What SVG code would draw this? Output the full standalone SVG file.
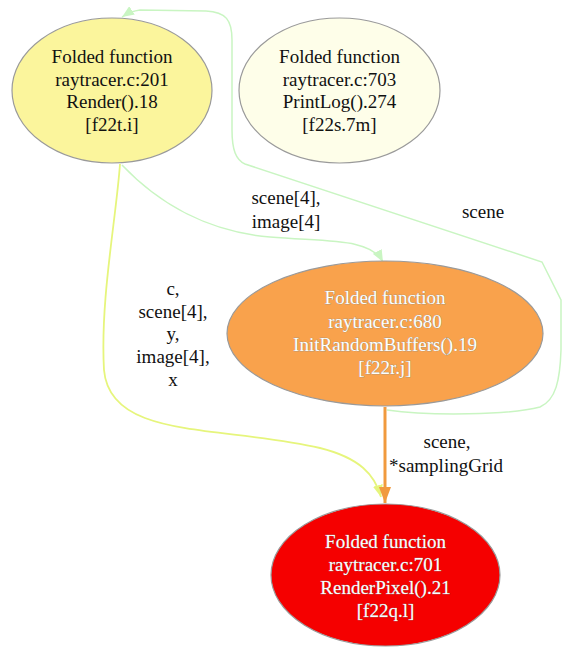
<svg xmlns="http://www.w3.org/2000/svg" width="562" height="648" viewBox="0 0 562 648">
<style>
  .node-shape { stroke: #9a9a9a; stroke-width: 1.2; }
  .t { font-family: 'Liberation Serif', Tinos, 'Times New Roman', 'DejaVu Serif', serif; font-size: 19px; text-anchor: middle; }
  .dark { fill: #111; }
  .light { fill: #fbffff; stroke: #8a8a8a; stroke-width: 0.5; paint-order: stroke; }
  .edge { fill: none; }
  .green { stroke: #c9f5c2; stroke-width: 1.5; }
  .yellow { stroke: #e6f57c; stroke-width: 1.8; }
  .orange { stroke: #f19a3e; stroke-width: 3; }
</style>
<defs>
  <marker id="ah-green" markerUnits="userSpaceOnUse" markerWidth="12" markerHeight="10" refX="12" refY="5" orient="auto">
    <path d="M0,0 L12,5 L0,10 z" fill="#c9f5c2"/>
  </marker>
  <marker id="ah-yellow" markerUnits="userSpaceOnUse" markerWidth="12" markerHeight="10" refX="12" refY="5" orient="auto">
    <path d="M0,0 L12,5 L0,10 z" fill="#e6f57c"/>
  </marker>
  <marker id="ah-orange" markerUnits="userSpaceOnUse" markerWidth="16" markerHeight="12" refX="16" refY="6" orient="auto">
    <path d="M0,0 L16,6 L0,12 z" fill="#f19a3e"/>
  </marker>
</defs>
<rect x="0" y="0" width="562" height="648" fill="#ffffff"/>

<g id="connectors">
  <path class="edge yellow" d="M120,164 C116,220 100,300 104,370 C110,440 220,425 320,448 C360,458 375,475 381,497" marker-end="url(#ah-yellow)"/>
  <path class="edge green" d="M122,165 C160,205 210,232 270,237 C330,242 370,238 383,262" marker-end="url(#ah-green)"/>
  <path class="edge green" d="M387,410 C430,416 510,415 540,407 C556,400 560,380 561,350 L561,300 L542,262 L245,164 C236,160 232,150 232,130 L232,40 C232,20 226,12 206,11 L140,10 C132,11 128,13 122,17" marker-end="url(#ah-green)"/>
  <path class="edge orange" d="M385,407 L385,503" marker-end="url(#ah-orange)"/>
  <g class="t dark" font-family="'Liberation Serif', serif">
    <text x="286" y="204">scene[4],</text>
    <text x="286" y="228">image[4]</text>
    <text x="483" y="218">scene</text>
    <text x="173" y="295">c,</text>
    <text x="173" y="318">scene[4],</text>
    <text x="173" y="340">y,</text>
    <text x="173" y="363">image[4],</text>
    <text x="173" y="386">x</text>
    <text x="447" y="448">scene,</text>
    <text x="446" y="472">*samplingGrid</text>
  </g>
</g>

<g id="node-render">
  <ellipse class="node-shape" cx="112" cy="90.5" rx="100" ry="72.5" fill="#fbf59c"/>
  <g class="t dark">
    <text x="112" y="63">Folded function</text>
    <text x="112" y="86">raytracer.c:201</text>
    <text x="112" y="108">Render().18</text>
    <text x="112" y="131">[f22t.i]</text>
  </g>
</g>

<g id="node-printlog">
  <ellipse class="node-shape" cx="339.5" cy="90.5" rx="100.5" ry="72.5" fill="#fefee9"/>
  <g class="t dark">
    <text x="339.5" y="63">Folded function</text>
    <text x="339.5" y="86">raytracer.c:703</text>
    <text x="339.5" y="108">PrintLog().274</text>
    <text x="339.5" y="131">[f22s.7m]</text>
  </g>
</g>

<g id="node-initrandombuffers">
  <ellipse class="node-shape" cx="385" cy="333.5" rx="158" ry="72.5" fill="#f9a24c"/>
  <g class="t light">
    <text x="385" y="304">Folded function</text>
    <text x="385" y="328">raytracer.c:680</text>
    <text x="385" y="351">InitRandomBuffers().19</text>
    <text x="385" y="374">[f22r.j]</text>
  </g>
</g>

<g id="node-renderpixel">
  <ellipse class="node-shape" cx="385.5" cy="575" rx="114.5" ry="71" fill="#f50000"/>
  <g class="t light">
    <text x="385.5" y="548">Folded function</text>
    <text x="385.5" y="571">raytracer.c:701</text>
    <text x="385.5" y="594">RenderPixel().21</text>
    <text x="385.5" y="617">[f22q.l]</text>
  </g>
</g>
</svg>
